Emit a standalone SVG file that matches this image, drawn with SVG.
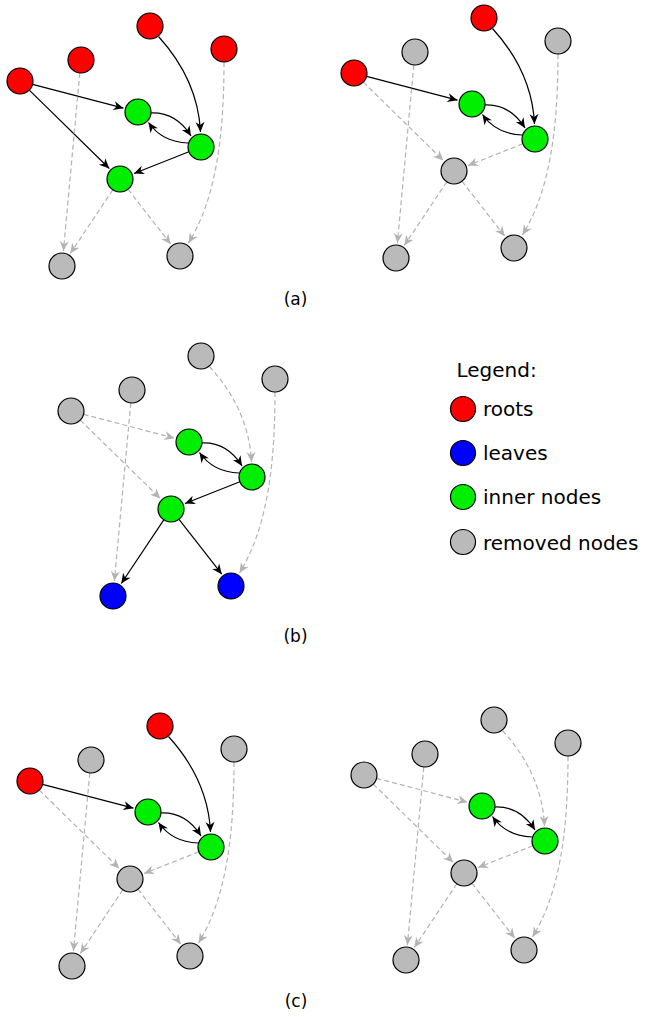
<svg xmlns="http://www.w3.org/2000/svg" width="645" height="1017" viewBox="0 0 645 1017">
<style>
.n{stroke:#000;stroke-width:1.2}
.r{fill:#ff0000}.g{fill:#00ee00}.b{fill:#0000ff}.x{fill:#bababa}
.s{fill:none;stroke:#000;stroke-width:1.2;marker-end:url(#ah)}
.d{fill:none;stroke:#b3b3b3;stroke-width:1.2;stroke-dasharray:5,3;marker-end:url(#ahg)}
text{font-family:"DejaVu Sans","Liberation Sans",sans-serif;fill:#000}
.lab{font-size:17px;text-anchor:middle}
.leg{font-size:20px}
</style>
<defs>
<marker id="ah" markerUnits="userSpaceOnUse" markerWidth="14" markerHeight="12" viewBox="-11 -6 12 12" refX="0" refY="0" orient="auto">
<path d="M0,0 L-10,-4.5 L-7,0 L-10,4.5 Z" fill="#000"/>
</marker>
<marker id="ahg" markerUnits="userSpaceOnUse" markerWidth="14" markerHeight="12" viewBox="-11 -6 12 12" refX="0" refY="0" orient="auto">
<path d="M0,0 L-10,-4.5 L-7,0 L-10,4.5 Z" fill="#b3b3b3"/>
</marker>
</defs>

<!-- Panel (a) left -->
<g id="panel-a1">
<g id="a1-edges">
<path class="s" d="M32.6,84.3 L123.5,108.2"/>
<path class="s" d="M29.3,90.1 L109.3,168.5"/>
<path class="s" d="M158.5,36.5 Q198,80 200.5,132"/>
<path class="s" d="M151,113 Q176,112 191,136"/>
<path class="s" d="M188,143 Q162,142 148.5,122.5"/>
<path class="s" d="M188.9,151.8 L134,173.5"/>
<path class="d" d="M79.8,72.9 L63.4,251.1"/>
<path class="d" d="M112.8,189.8 L70.3,253.5"/>
<path class="d" d="M128,189.3 L170.8,244.2"/>
<path class="d" d="M224,62 C224,140 215,200 188.5,243"/>
</g>
<g id="a1-A"><circle class="n r" cx="20" cy="81" r="13"/></g>
<g id="a1-B"><circle class="n r" cx="81" cy="60" r="13"/></g>
<g id="a1-C"><circle class="n r" cx="150" cy="26" r="13"/></g>
<g id="a1-D"><circle class="n r" cx="224" cy="49" r="13"/></g>
<g id="a1-G1"><circle class="n g" cx="138" cy="112" r="13"/></g>
<g id="a1-G2"><circle class="n g" cx="201" cy="147" r="13"/></g>
<g id="a1-G3"><circle class="n g" cx="120" cy="179" r="13"/></g>
<g id="a1-L1"><circle class="n x" cx="62" cy="266" r="13"/></g>
<g id="a1-L2"><circle class="n x" cx="180" cy="256" r="13"/></g>
</g>

<!-- Panel (a) right -->
<g id="panel-a2" transform="translate(334,-8)">
<g id="a2-edges">
<path class="s" d="M32.6,84.3 L123.5,108.2"/>
<path class="d" d="M29.3,90.1 L109.3,168.5"/>
<path class="s" d="M158.5,36.5 Q198,80 200.5,132"/>
<path class="s" d="M151,113 Q176,112 191,136"/>
<path class="s" d="M188,143 Q162,142 148.5,122.5"/>
<path class="d" d="M188.9,151.8 L134,173.5"/>
<path class="d" d="M79.8,72.9 L63.4,251.1"/>
<path class="d" d="M112.8,189.8 L70.3,253.5"/>
<path class="d" d="M128,189.3 L170.8,244.2"/>
<path class="d" d="M224,62 C224,140 215,200 188.5,243"/>
</g>
<g id="a2-A"><circle class="n r" cx="20" cy="81" r="13"/></g>
<g id="a2-B"><circle class="n x" cx="81" cy="60" r="13"/></g>
<g id="a2-C"><circle class="n r" cx="150" cy="26" r="13"/></g>
<g id="a2-D"><circle class="n x" cx="224" cy="49" r="13"/></g>
<g id="a2-G1"><circle class="n g" cx="138" cy="112" r="13"/></g>
<g id="a2-G2"><circle class="n g" cx="201" cy="147" r="13"/></g>
<g id="a2-G3"><circle class="n x" cx="120" cy="179" r="13"/></g>
<g id="a2-L1"><circle class="n x" cx="62" cy="266" r="13"/></g>
<g id="a2-L2"><circle class="n x" cx="180" cy="256" r="13"/></g>
</g>

<text class="lab" x="295.5" y="305">(a)</text>

<!-- Panel (b) -->
<g id="panel-b" transform="translate(51,330)">
<g id="b-edges">
<path class="d" d="M32.6,84.3 L123.5,108.2"/>
<path class="d" d="M29.3,90.1 L109.3,168.5"/>
<path class="d" d="M158.5,36.5 Q198,80 200.5,132"/>
<path class="s" d="M151,113 Q176,112 191,136"/>
<path class="s" d="M188,143 Q162,142 148.5,122.5"/>
<path class="s" d="M188.9,151.8 L134,173.5"/>
<path class="d" d="M79.8,72.9 L63.4,251.1"/>
<path class="s" d="M112.8,189.8 L70.3,253.5"/>
<path class="s" d="M128,189.3 L170.8,244.2"/>
<path class="d" d="M224,62 C224,140 215,200 188.5,243"/>
</g>
<g id="b-A"><circle class="n x" cx="20" cy="81" r="13"/></g>
<g id="b-B"><circle class="n x" cx="81" cy="60" r="13"/></g>
<g id="b-C"><circle class="n x" cx="150" cy="26" r="13"/></g>
<g id="b-D"><circle class="n x" cx="224" cy="49" r="13"/></g>
<g id="b-G1"><circle class="n g" cx="138" cy="112" r="13"/></g>
<g id="b-G2"><circle class="n g" cx="201" cy="147" r="13"/></g>
<g id="b-G3"><circle class="n g" cx="120" cy="179" r="13"/></g>
<g id="b-L1"><circle class="n b" cx="62" cy="266" r="13"/></g>
<g id="b-L2"><circle class="n b" cx="180" cy="256" r="13"/></g>
</g>

<text class="lab" x="295.5" y="641.5">(b)</text>

<!-- Legend -->
<g id="legend">
<text class="leg" x="456.5" y="376.5">Legend:</text>
<g id="leg-roots"><circle class="n r" cx="463" cy="409" r="12.5"/><text class="leg" x="483" y="416">roots</text></g>
<g id="leg-leaves"><circle class="n b" cx="463" cy="453" r="12.5"/><text class="leg" x="483" y="460">leaves</text></g>
<g id="leg-inner"><circle class="n g" cx="463" cy="497" r="12.5"/><text class="leg" x="483" y="504">inner nodes</text></g>
<g id="leg-removed"><circle class="n x" cx="463" cy="542" r="12.5"/><text class="leg" x="483" y="550">removed nodes</text></g>
</g>

<!-- Panel (c) left -->
<g id="panel-c1" transform="translate(10,700)">
<g id="c1-edges">
<path class="s" d="M32.6,84.3 L123.5,108.2"/>
<path class="d" d="M29.3,90.1 L109.3,168.5"/>
<path class="s" d="M158.5,36.5 Q198,80 200.5,132"/>
<path class="s" d="M151,113 Q176,112 191,136"/>
<path class="s" d="M188,143 Q162,142 148.5,122.5"/>
<path class="d" d="M188.9,151.8 L134,173.5"/>
<path class="d" d="M79.8,72.9 L63.4,251.1"/>
<path class="d" d="M112.8,189.8 L70.3,253.5"/>
<path class="d" d="M128,189.3 L170.8,244.2"/>
<path class="d" d="M224,62 C224,140 215,200 188.5,243"/>
</g>
<g id="c1-A"><circle class="n r" cx="20" cy="81" r="13"/></g>
<g id="c1-B"><circle class="n x" cx="81" cy="60" r="13"/></g>
<g id="c1-C"><circle class="n r" cx="150" cy="26" r="13"/></g>
<g id="c1-D"><circle class="n x" cx="224" cy="49" r="13"/></g>
<g id="c1-G1"><circle class="n g" cx="138" cy="112" r="13"/></g>
<g id="c1-G2"><circle class="n g" cx="201" cy="147" r="13"/></g>
<g id="c1-G3"><circle class="n x" cx="120" cy="179" r="13"/></g>
<g id="c1-L1"><circle class="n x" cx="62" cy="266" r="13"/></g>
<g id="c1-L2"><circle class="n x" cx="180" cy="256" r="13"/></g>
</g>

<!-- Panel (c) right -->
<g id="panel-c2" transform="translate(344,694)">
<g id="c2-edges">
<path class="d" d="M32.6,84.3 L123.5,108.2"/>
<path class="d" d="M29.3,90.1 L109.3,168.5"/>
<path class="d" d="M158.5,36.5 Q198,80 200.5,132"/>
<path class="s" d="M151,113 Q176,112 191,136"/>
<path class="s" d="M188,143 Q162,142 148.5,122.5"/>
<path class="d" d="M188.9,151.8 L134,173.5"/>
<path class="d" d="M79.8,72.9 L63.4,251.1"/>
<path class="d" d="M112.8,189.8 L70.3,253.5"/>
<path class="d" d="M128,189.3 L170.8,244.2"/>
<path class="d" d="M224,62 C224,140 215,200 188.5,243"/>
</g>
<g id="c2-A"><circle class="n x" cx="20" cy="81" r="13"/></g>
<g id="c2-B"><circle class="n x" cx="81" cy="60" r="13"/></g>
<g id="c2-C"><circle class="n x" cx="150" cy="26" r="13"/></g>
<g id="c2-D"><circle class="n x" cx="224" cy="49" r="13"/></g>
<g id="c2-G1"><circle class="n g" cx="138" cy="112" r="13"/></g>
<g id="c2-G2"><circle class="n g" cx="201" cy="147" r="13"/></g>
<g id="c2-G3"><circle class="n x" cx="120" cy="179" r="13"/></g>
<g id="c2-L1"><circle class="n x" cx="62" cy="266" r="13"/></g>
<g id="c2-L2"><circle class="n x" cx="180" cy="256" r="13"/></g>
</g>

<text class="lab" x="296" y="1006.5">(c)</text>
</svg>
